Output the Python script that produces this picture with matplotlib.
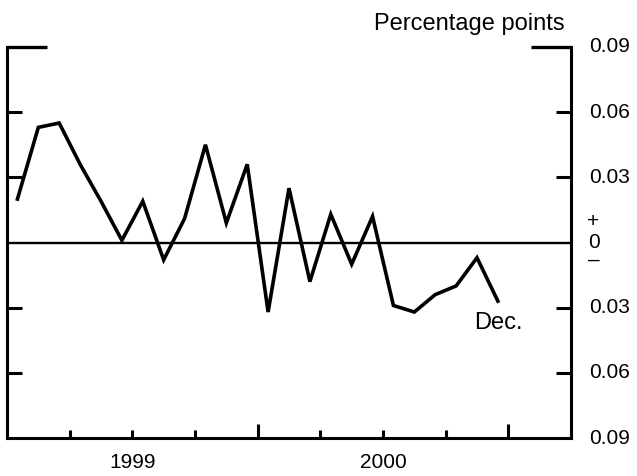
import numpy as np
import matplotlib
matplotlib.use("Agg")
import matplotlib.pyplot as plt
import matplotlib.transforms as mtransforms

plt.rcParams['font.family'] = ['Liberation Sans', 'DejaVu Sans']

# ---- data (monthly, Jan 1999 - Dec 2000), percentage points ----
values = [0.020, 0.053, 0.055, 0.036, 0.019, 0.001, 0.019, -0.008, 0.011, 0.045,
          0.009, 0.036, -0.032, 0.025, -0.018, 0.013, -0.010, 0.012, -0.029, -0.032,
          -0.024, -0.020, -0.007, -0.027]
year_labels = ["1999", "2000"]
year_centers = [6, 18]          # months from Jan 1999
ytick_vals = [0.09, 0.06, 0.03, -0.03, -0.06, -0.09]
ytick_text = ["0.09", "0.06", "0.03", "0.03", "0.06", "0.09"]
end_label = "Dec."
unit_label = "Percentage points"

W, H = 637, 476
fig = plt.figure(figsize=(W / 100, H / 100), dpi=100)
L, R, T, B = 7, 571, 47, 438
ax = fig.add_axes([L / W, 1 - B / H, (R - L) / W, (B - T) / H])

x = np.arange(len(values)) + 0.5
ax.plot(x, values, color='black', lw=2.6, solid_joinstyle='miter')
ax.axhline(0, color='black', lw=1.7)

ax.set_xlim(0, 27)
ax.set_ylim(-0.09, 0.09)

for s in ['left', 'right', 'bottom']:
    ax.spines[s].set_linewidth(2.2)
ax.spines['top'].set_visible(False)

# y ticks: long at top, short elsewhere, on both sides, inward
ax.set_yticks([0.09])
ax.set_yticks([0.06, 0.03, -0.03, -0.06], minor=True)
ax.tick_params(axis='y', which='major', direction='in', length=29, width=2.4,
               left=True, right=True, labelleft=False, labelright=False)
ax.tick_params(axis='y', which='minor', direction='in', length=11, width=2.2,
               left=True, right=True)

# x ticks: quarterly, taller at year ends
ax.set_xticks([12, 24])
ax.set_xticks([3, 6, 9, 15, 18, 21], minor=True)
ax.tick_params(axis='x', which='major', direction='in', length=10, width=2.2,
               labelbottom=False)
ax.tick_params(axis='x', which='minor', direction='in', length=6, width=2.2)

fs = 15
# right-side value labels
tr = mtransforms.blended_transform_factory(ax.transAxes, ax.transData)
for v, t in zip(ytick_vals, ytick_text):
    ax.text(1.033, v, t, transform=tr, ha='left', va='center', fontsize=fs)
ax.text(1.04, 0.0095, "+", transform=tr, ha='center', va='center', fontsize=fs)
ax.text(1.04, 0.0, "0", transform=tr, ha='center', va='center', fontsize=fs)
ax.text(1.04, -0.0080, "\u2013", transform=tr, ha='center', va='center', fontsize=fs)

# year labels
trx = mtransforms.blended_transform_factory(ax.transData, ax.transAxes)
for c, t in zip(year_centers, year_labels):
    ax.text(c, -0.062, t, transform=trx, ha='center', va='center', fontsize=fs)

ax.text(x[-1], -0.037, end_label, ha='center', va='center', fontsize=17)

fig.text(565 / W, 1 - 24 / H, unit_label, ha='right', va='center', fontsize=17)

fig.savefig("out.png", dpi=100)
